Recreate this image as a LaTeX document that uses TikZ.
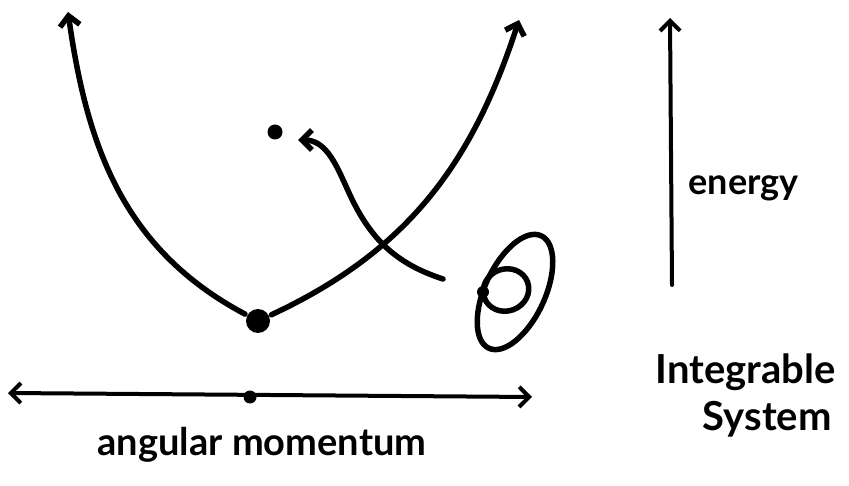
\documentclass[tikz,border=0pt]{standalone}
\usepackage{fontspec}
\setmainfont{Lato}
\usetikzlibrary{arrows.meta}

\begin{document}
\begin{tikzpicture}[x=1pt, y=1pt, line width=5.5pt, line cap=round, line join=round,
    >={Straight Barb[length=10pt,width=20pt]},
    dot/.style={circle, fill, inner sep=0pt, minimum size=#1},
    hand/.style={font=\fontsize{#1}{#1}\selectfont\bfseries, inner sep=0pt}]
    \useasboundingbox (0,0) rectangle (849,485);

    % potential curve with its minimum
    \node[dot=24pt] (ground) at (258,164) {};
    \coordinate (lefttip) at (68,473);
    \coordinate (righttip) at (519,465);
    \draw[->] (ground) to[out=152,in=-82] (lefttip);
    \draw[->] (ground) to[out=25,in=-108] (righttip);

    % excited point and the flow back to it
    \node[dot=15pt] (excited) at (275,353) {};
    \coordinate (flowstart) at (443,206);
    \coordinate (flowmid) at (350,290);
    \coordinate (flowend) at (298,345);
    \draw[->] (flowstart) to[out=162,in=-65] (flowmid) to[out=115,in=0] (flowend);

    % orbits
    \draw (515,193) ellipse [x radius=62, y radius=30, rotate=65];
    \draw (506,195) ellipse [x radius=23, y radius=21, rotate=20];
    \node[dot=12pt] (touch) at (483,193) {};

    % angular momentum axis
    \coordinate (axisleft) at (8,92);
    \coordinate (axisright) at (532,88);
    \node[dot=13pt] (origin) at (250,88) {};
    \draw[<->, line width=4pt] (axisleft) -- (axisright);
    \node[hand=38, anchor=base] (amlabel) at (262,30) {angular momentum};

    % energy axis
    \coordinate (ebottom) at (672,200);
    \coordinate (etop) at (670,467);
    \draw[->, line width=4pt] (ebottom) -- (etop);
    \node[hand=36, anchor=base west] (elabel) at (686,290) {energy};

    % caption
    \node[hand=40, anchor=base west] (integ) at (653,101) {Integrable};
    \node[hand=40, anchor=base west] (sys) at (700,55) {System};
\end{tikzpicture}
\end{document}
